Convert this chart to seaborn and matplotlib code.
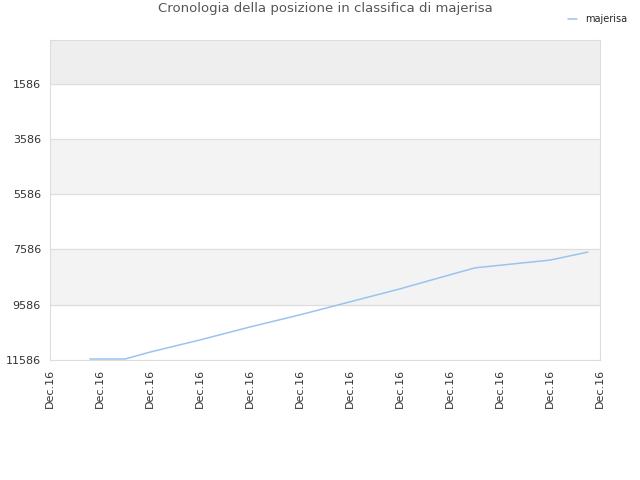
import matplotlib
matplotlib.use("Agg")
import matplotlib.pyplot as plt
import seaborn as sns
import pandas as pd

# rank history (x in tick units, y = position)
steps = [0.8, 1.5, 2, 3, 4, 5, 6, 7, 8, 8.5, 10, 10.75]
positions = [11550, 11550, 11300, 10860, 10390, 9950, 9480, 9010, 8500, 8250, 7970, 7680]
tick_labels = ["Dec.16"] * 12
y_ticks = [1586, 3586, 5586, 7586, 9586, 11586]

df = pd.DataFrame({"step": steps, "pos": positions})

sns.set_style("white")
fig, ax = plt.subplots(figsize=(6.4, 4.8), dpi=100)
fig.subplots_adjust(left=0.078, right=0.938, top=0.917, bottom=0.25)

# alternating bands
bands = [(0, 1586, "#eeeeee"), (3586, 5586, "#f3f3f3"), (7586, 9586, "#f3f3f3")]
for lo, hi, c in bands:
    ax.axhspan(lo, hi, color=c, zorder=0)
for y in y_ticks:
    ax.axhline(y, color="#dddddd", linewidth=0.8, zorder=1)

sns.lineplot(data=df, x="step", y="pos", ax=ax, color="#99c4f0",
             linewidth=1.1, label="majerisa")

ax.set_xlim(0, 11)
ax.set_ylim(11586, 0)
ax.set_yticks(y_ticks)
ax.set_yticklabels([str(v) for v in y_ticks], fontsize=8, color="#333333")
ax.set_xticks(range(12))
ax.set_xticklabels(tick_labels, rotation=90, fontsize=8, color="#333333")
ax.set_xlabel("")
ax.set_ylabel("")
for s in ax.spines.values():
    s.set_color("#dddddd")
ax.tick_params(length=3, color="#cccccc")

ax.set_title("Cronologia della posizione in classifica di majerisa",
             fontsize=9.5, color="#555555", pad=20)
ax.legend(loc="upper right", bbox_to_anchor=(1.065, 1.107), frameon=False,
          fontsize=7, handlelength=1)

fig.savefig("out.png", dpi=100)
